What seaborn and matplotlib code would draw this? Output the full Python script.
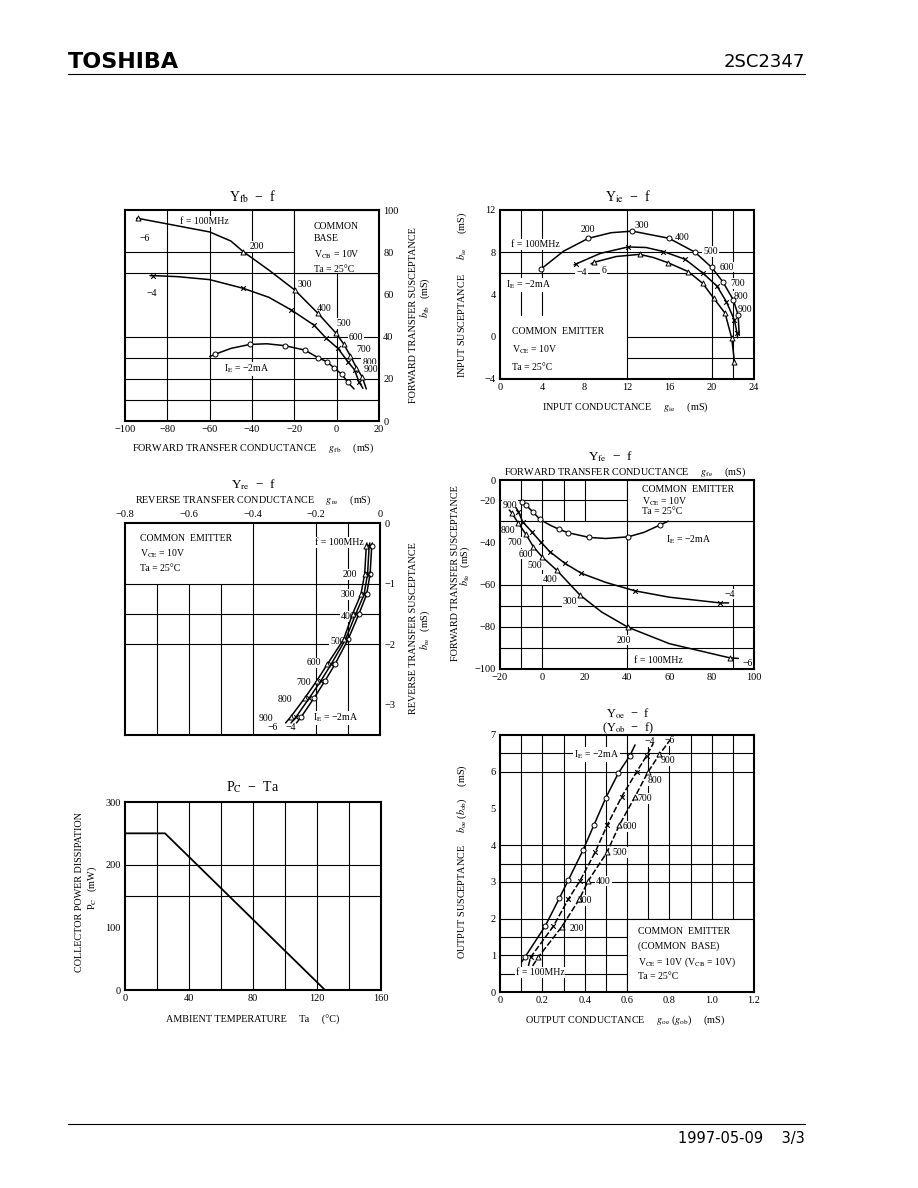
import matplotlib
matplotlib.use("Agg")
import matplotlib.pyplot as plt
from matplotlib.patches import Rectangle
import seaborn as sns

# -----------------------------
# data
# -----------------------------
# Y_fb - f (common base), IE = -2, -4, -6 mA
fb_n2_g = [-60.0, -57.5, -50.0, -41.0, -33.0, -24.5, -15.0, -8.8, -4.6, -1.4, 2.5, 5.3, 8.2]
fb_n2_b = [30.5, 31.6, 34.4, 36.3, 36.6, 35.7, 33.6, 30.0, 28.1, 25.3, 22.1, 18.3, 15.2]
fb_n2_mk_g = [-57.5, -41.0, -24.5, -15.0, -8.8, -4.6, -1.4, 2.5, 5.3]
fb_n2_mk_b = [31.6, 36.3, 35.7, 33.6, 30.0, 28.1, 25.3, 22.1, 18.3]
fb_n4_g = [-88.2, -86.6, -75.0, -60.0, -44.2, -32.0, -21.4, -10.8, -4.9, 0.6, 5.3, 8.5, 10.5, 12.4]
fb_n4_b = [68.9, 68.9, 68.4, 67.0, 62.9, 58.6, 52.6, 45.5, 39.2, 34.4, 28.1, 24.2, 18.6, 15.5]
fb_n4_mk_g = [-86.6, -44.2, -21.4, -10.8, -4.9, 0.6, 5.3, 8.5, 10.5]
fb_n4_mk_b = [68.9, 62.9, 52.6, 45.5, 39.2, 34.4, 28.1, 24.2, 18.6]
fb_n6_g = [-94.5, -93.7, -80.0, -60.0, -50.0, -44.2, -32.0, -19.8, -8.8, -0.2, 3.3, 6.4, 9.3, 12.0, 14.0]
fb_n6_b = [96.0, 96.0, 93.4, 89.6, 85.3, 80.3, 71.5, 62.1, 51.0, 41.5, 36.5, 31.0, 25.3, 21.0, 15.2]
fb_n6_mk_g = [-93.7, -44.2, -19.8, -8.8, -0.2, 3.3, 6.4, 9.3, 12.0]
fb_n6_mk_b = [96.0, 80.3, 62.1, 51.0, 41.5, 36.5, 31.0, 25.3, 21.0]

# Y_ie - f (common emitter)
ie_n2_g = [3.84, 6.0, 8.35, 10.5, 12.5, 15.97, 18.43, 20.0, 21.05, 22.05, 22.5, 22.6]
ie_n2_b = [6.38, 8.1, 9.32, 9.85, 10.0, 9.32, 8.0, 6.57, 5.21, 3.48, 2.06, 0.2]
ie_n2_mk_g = [3.84, 8.35, 12.5, 15.97, 18.43, 20.0, 21.05, 22.05, 22.5]
ie_n2_mk_b = [6.38, 9.32, 10.0, 9.32, 8.0, 6.57, 5.21, 3.48, 2.06]
ie_n4_g = [7.0, 7.18, 9.5, 12.1, 13.8, 15.43, 17.5, 19.2, 20.5, 21.4, 22.15, 22.4, 22.45]
ie_n4_b = [6.8, 6.89, 7.9, 8.5, 8.45, 8.07, 7.33, 6.0, 4.8, 3.3, 1.58, 0.33, -0.1]
ie_n4_mk_g = [7.18, 12.1, 15.43, 17.5, 19.2, 20.5, 21.4, 22.15, 22.4]
ie_n4_mk_b = [6.89, 8.5, 8.07, 7.33, 6.0, 4.8, 3.3, 1.58, 0.33]
ie_n6_g = [8.6, 8.88, 11.0, 13.2, 14.5, 15.9, 17.8, 19.15, 20.2, 21.27, 21.9, 22.15, 22.2]
ie_n6_b = [6.9, 7.05, 7.6, 7.8, 7.5, 7.0, 6.16, 5.06, 3.64, 2.22, -0.15, -2.35, -2.6]
ie_n6_mk_g = [8.88, 13.2, 15.9, 17.8, 19.15, 20.2, 21.27, 21.9, 22.15]
ie_n6_mk_b = [7.05, 7.8, 7.0, 6.16, 5.06, 3.64, 2.22, -0.15, -2.35]

# Y_re - f (common emitter), first point = curve start, rest = 100..900 MHz, end
re_b = [-0.33, -0.38, -0.84, -1.18, -1.50, -1.92, -2.33, -2.61, -2.89, -3.20, -3.30]
re_n2_g = [-0.024, -0.026, -0.031, -0.042, -0.066, -0.100, -0.141, -0.173, -0.207, -0.247, -0.262]
re_n4_g = [-0.032, -0.034, -0.039, -0.050, -0.076, -0.108, -0.153, -0.186, -0.222, -0.263, -0.279]
re_n6_g = [-0.041, -0.043, -0.048, -0.060, -0.086, -0.114, -0.165, -0.199, -0.236, -0.280, -0.296]

# Y_fe - f (common emitter)
fe_n2_g = [-10.5, -9.75, -7.7, -4.25, -1.1, 3.5, 8.0, 12.3, 22.2, 30.0, 40.6, 48.0, 55.6, 59.5]
fe_n2_b = [-20.2, -20.8, -22.4, -25.8, -29.2, -31.8, -33.9, -35.5, -37.7, -38.2, -37.4, -35.3, -31.8, -30.0]
fe_n2_mk_g = [-9.75, -7.7, -4.25, -1.1, 8.0, 12.3, 22.2, 40.6, 55.6]
fe_n2_mk_b = [-20.8, -22.4, -25.8, -29.2, -33.9, -35.5, -37.7, -37.4, -31.8]
fe_n4_g = [-12.5, -11.3, -9.3, -5.0, -0.8, 3.6, 10.7, 18.5, 30.0, 43.8, 60.0, 84.0, 88.0]
fe_n4_b = [-23.5, -25.5, -30.3, -35.0, -39.8, -44.5, -50.0, -54.7, -59.0, -63.0, -66.0, -68.7, -68.7]
fe_n4_mk_g = [-11.3, -9.3, -5.0, -0.8, 3.6, 10.7, 18.5, 43.8, 84.0]
fe_n4_mk_b = [-25.5, -30.3, -35.0, -39.8, -44.5, -50.0, -54.7, -63.0, -68.7]
fe_n6_g = [-15.6, -14.5, -11.3, -7.7, -4.25, 0.0, 6.8, 17.8, 28.0, 40.6, 60.0, 88.5, 92.6]
fe_n6_b = [-24.7, -26.0, -31.0, -36.3, -42.1, -47.0, -53.2, -65.0, -73.0, -80.3, -88.0, -94.7, -95.0]
fe_n6_mk_g = [-14.5, -11.3, -7.7, -4.25, 0.0, 6.8, 17.8, 40.6, 88.5]
fe_n6_mk_b = [-26.0, -31.0, -36.3, -42.1, -47.0, -53.2, -65.0, -80.3, -94.7]

# PC - Ta
pc_ta = [0, 25, 125]
pc_mw = [250, 250, 0]

# Y_oe - f, first point = curve start, then 100..900 MHz, then end
oe_n2_g = [0.102, 0.118, 0.213, 0.280, 0.323, 0.392, 0.444, 0.500, 0.559, 0.614, 0.638]
oe_n2_b = [0.82, 0.95, 1.79, 2.55, 3.05, 3.86, 4.55, 5.29, 5.96, 6.44, 6.73]
oe_n4_g = [0.134, 0.145, 0.252, 0.323, 0.378, 0.449, 0.507, 0.575, 0.646, 0.693, 0.724]
oe_n4_b = [0.71, 0.95, 1.79, 2.53, 3.03, 3.80, 4.55, 5.32, 6.00, 6.44, 6.77]
oe_n6_g = [0.154, 0.181, 0.291, 0.375, 0.417, 0.505, 0.564, 0.638, 0.698, 0.753, 0.803]
oe_n6_b = [0.71, 0.95, 1.77, 2.53, 3.03, 3.80, 4.55, 5.32, 5.98, 6.47, 6.86]

freq_labels = ["100", "200", "300", "400", "500", "600", "700", "800", "900"]

# -----------------------------
# style
# -----------------------------
sns.set_theme(style="white")
plt.rcParams['font.family'] = ['Liberation Serif', 'DejaVu Serif']
plt.rcParams['mathtext.fontset'] = 'stix'
plt.rcParams['axes.unicode_minus'] = True
plt.rcParams['text.color'] = 'black'

W, H = 918, 1188
fig = plt.figure(figsize=(W / 100, H / 100), dpi=100)


def box(x0, y0, x1, y1):
    return [x0 / W, 1 - y1 / H, (x1 - x0) / W, (y1 - y0) / H]


def ptext(x, y, s, **kw):
    kw.setdefault('fontsize', 7.3)
    kw.setdefault('ha', 'center')
    kw.setdefault('va', 'center')
    fig.text(x / W, 1 - y / H, s, **kw)


WB = dict(facecolor='white', edgecolor='none', pad=0.6)


def lab(ax, x, y, s, **kw):
    kw.setdefault('fontsize', 7)
    kw.setdefault('ha', 'center')
    kw.setdefault('va', 'center')
    ax.text(x, y, s, bbox=WB, zorder=2.5, **kw)


def curve(ax, x, y, ls='-'):
    sns.lineplot(x=x, y=y, sort=False, estimator=None, color='black',
                 linewidth=1.1, linestyle=ls, ax=ax, zorder=3)


def marks(ax, x, y, kind):
    if kind == 'x':
        sns.scatterplot(x=x, y=y, marker='x', s=11, color='black',
                        linewidth=0.8, ax=ax, zorder=4)
    else:
        sns.scatterplot(x=x, y=y, marker=kind, s=13, color='white',
                        edgecolor='black', linewidth=0.7, ax=ax, zorder=4)


def frame(ax):
    for s in ax.spines.values():
        s.set_linewidth(1.5)
        s.set_color('black')
    ax.tick_params(length=0, labelsize=7.5, pad=3, colors='black')
    ax.set_xlabel('')
    ax.set_ylabel('')


def vgrid(ax, xs, lo=0, hi=1):
    for v in xs:
        ax.axvline(v, ymin=lo, ymax=hi, color='black', lw=0.8, zorder=1)


def hgrid(ax, ys, lo=0, hi=1):
    for v in ys:
        ax.axhline(v, xmin=lo, xmax=hi, color='black', lw=0.8, zorder=1)


# -----------------------------
# header / footer
# -----------------------------
ptext(68, 62, "TOSHIBA", fontsize=16, fontweight='bold', ha='left',
      family=['DejaVu Sans'])
ptext(805, 62, "2SC2347", fontsize=13, ha='right', family=['DejaVu Sans'])
ptext(805, 1138, "1997-05-09    3/3", fontsize=10.5, ha='right', family=['DejaVu Sans'])
fig.add_artist(plt.Line2D([68 / W, 805 / W], [1 - 74 / H, 1 - 74 / H], color='black', lw=0.8))
fig.add_artist(plt.Line2D([68 / W, 805 / W], [1 - 1124 / H, 1 - 1124 / H], color='black', lw=0.8))

# -----------------------------
# 1. Y_fb - f
# -----------------------------
ax1 = fig.add_axes(box(125, 210, 379, 421))
vgrid(ax1, [-80, -60, -40, -20, 0])
hgrid(ax1, [10, 20, 30, 40, 70, 80])
ax1.add_patch(Rectangle((-20, 70), 40, 30, facecolor='white', edgecolor='black', lw=0.8, zorder=1.5))
curve(ax1, fb_n2_g, fb_n2_b)
curve(ax1, fb_n4_g, fb_n4_b)
curve(ax1, fb_n6_g, fb_n6_b)
marks(ax1, fb_n2_mk_g, fb_n2_mk_b, 'o')
marks(ax1, fb_n4_mk_g, fb_n4_mk_b, 'x')
marks(ax1, fb_n6_mk_g, fb_n6_mk_b, '^')
ax1.set_xlim(-100, 20)
ax1.set_ylim(0, 100)
ax1.set_xticks([-100, -80, -60, -40, -20, 0, 20])
ax1.set_xticklabels(["−100", "−80", "−60", "−40", "−20", "0", "20"])
ax1.set_yticks([0, 20, 40, 60, 80, 100])
ax1.yaxis.tick_right()
frame(ax1)
lab(ax1, -62.7, 94.5, "f = 100MHz")
lab(ax1, -90.6, 86.6, "−6")
lab(ax1, -87.4, 60.5, "−4")
for (x, y), t in zip([(-37.6, 82.6), (-15.1, 64.9), (-5.7, 53.4), (3.3, 46.3), (9.1, 39.5),
                      (12.7, 34.1), (15.6, 27.8), (16.4, 24.6)], freq_labels[1:]):
    lab(ax1, x, y, t)
lab(ax1, -42.6, 24.6, "I$_{\\rm E}$ = −2mA")
ax1.text(-10.8, 94.5, "COMMON\nBASE\nV$_{\\rm CB}$ = 10V\nTa = 25°C", fontsize=7,
         ha='left', va='top', linespacing=1.55, zorder=2.5)
ptext(253, 197, "Y$_{\\rm fb}$  −  f", fontsize=10)
ptext(253, 448, "FORWARD TRANSFER CONDUCTANCE     $g_{\\rm fb}$     (mS)")
ptext(413, 315, "FORWARD TRANSFER SUSCEPTANCE", rotation=90)
ptext(425, 298, "$b_{\\rm fb}$   (mS)", rotation=90)

# -----------------------------
# 2. Y_ie - f
# -----------------------------
ax2 = fig.add_axes(box(500, 210, 754, 379))
vgrid(ax2, [12, 20, 22])
vgrid(ax2, [2, 4], lo=0.38)
hgrid(ax2, [8, 6])
hgrid(ax2, [0, -2], lo=0.5)
curve(ax2, ie_n2_g, ie_n2_b)
curve(ax2, ie_n4_g, ie_n4_b)
curve(ax2, ie_n6_g, ie_n6_b)
marks(ax2, ie_n2_mk_g, ie_n2_mk_b, 'o')
marks(ax2, ie_n4_mk_g, ie_n4_mk_b, 'x')
marks(ax2, ie_n6_mk_g, ie_n6_mk_b, '^')
ax2.set_xlim(0, 24)
ax2.set_ylim(-4, 12)
ax2.set_xticks([0, 4, 8, 12, 16, 20, 24])
ax2.set_yticks([12, 8, 4, 0, -4])
ax2.set_yticklabels(["12", "8", "4", "0", "−4"])
frame(ax2)
for (x, y), t in zip([(8.3, 10.2), (13.4, 10.5), (17.2, 9.4), (19.9, 8.05), (21.4, 6.6),
                      (22.5, 5.06), (22.8, 3.8), (23.1, 2.6)], freq_labels[1:]):
    lab(ax2, x, y, t)
lab(ax2, 3.3, 8.7, "f = 100MHz")
lab(ax2, 2.75, 4.9, "I$_{\\rm E}$ = −2mA")
lab(ax2, 7.7, 6.05, "−4")
lab(ax2, 9.8, 6.25, "6")
ax2.text(1.1, 0.48, "COMMON  EMITTER", fontsize=7, ha='left', va='center', zorder=2.5)
ax2.text(1.1, -1.26, "V$_{\\rm CE}$ = 10V", fontsize=7, ha='left', va='center', zorder=2.5)
ax2.text(1.1, -2.9, "Ta = 25°C", fontsize=7, ha='left', va='center', zorder=2.5)
ptext(628, 197, "Y$_{\\rm ie}$  −  f", fontsize=10)
ptext(625, 407, "INPUT CONDUCTANCE     $g_{\\rm ie}$     (mS)")
ptext(462, 295, "INPUT SUSCEPTANCE      $b_{\\rm ie}$      (mS)", rotation=90)

# -----------------------------
# 3. Y_re - f
# -----------------------------
ax3 = fig.add_axes(box(125, 523, 380, 735))
vgrid(ax3, [-0.7, -0.6, -0.5], hi=2.5 / 3.5)
vgrid(ax3, [-0.4, -0.2, -0.1])
hgrid(ax3, [-1, -1.5, -2])
curve(ax3, re_n2_g, re_b)
curve(ax3, re_n4_g, re_b)
curve(ax3, re_n6_g, re_b)
marks(ax3, re_n2_g[1:-1], re_b[1:-1], 'o')
marks(ax3, re_n4_g[1:-1], re_b[1:-1], 'x')
marks(ax3, re_n6_g[1:-1], re_b[1:-1], '^')
ax3.set_xlim(-0.8, 0)
ax3.set_ylim(-3.5, 0)
ax3.set_xticks([-0.8, -0.6, -0.4, -0.2, 0])
ax3.set_xticklabels(["−0.8", "−0.6", "−0.4", "−0.2", "0"])
ax3.set_yticks([0, -1, -2, -3])
ax3.xaxis.tick_top()
ax3.yaxis.tick_right()
frame(ax3)
lab(ax3, -0.127, -0.32, "f = 100MHz")
for (x, y), t in zip([(-0.096, -0.85), (-0.101, -1.18), (-0.101, -1.54), (-0.133, -1.95),
                      (-0.209, -2.31), (-0.240, -2.64), (-0.299, -2.92), (-0.357, -3.22)],
                     freq_labels[1:]):
    lab(ax3, x, y, t)
lab(ax3, -0.336, -3.38, "−6")
lab(ax3, -0.279, -3.38, "−4")
lab(ax3, -0.138, -3.22, "I$_{\\rm E}$ = −2mA")
ax3.text(-0.753, -0.25, "COMMON  EMITTER", fontsize=7, ha='left', va='center', zorder=2.5)
ax3.text(-0.753, -0.5, "V$_{\\rm CE}$ = 10V", fontsize=7, ha='left', va='center', zorder=2.5)
ax3.text(-0.753, -0.75, "Ta = 25°C", fontsize=7, ha='left', va='center', zorder=2.5)
ptext(253, 485, "Y$_{\\rm re}$  −  f", fontsize=9.5)
ptext(253, 500, "REVERSE TRANSFER CONDUCTANCE     $g_{\\rm re}$     (mS)")
ptext(413, 628, "REVERSE TRANSFER SUSCEPTANCE", rotation=90)
ptext(425, 630, "$b_{\\rm re}$   (mS)", rotation=90)

# -----------------------------
# 4. Y_fe - f
# -----------------------------
ax4 = fig.add_axes(box(500, 480, 754, 669))
vgrid(ax4, [-10, 0, 40])
vgrid(ax4, [10, 20], lo=70 / 89.5)
vgrid(ax4, [90], hi=40 / 89.5)
hgrid(ax4, [-20], hi=0.5)
hgrid(ax4, [-30, -60, -70, -80, -90])
ax4.add_patch(Rectangle((40, -30), 60, 19.5, facecolor='white', edgecolor='black', lw=0.8, zorder=1.5))
curve(ax4, fe_n2_g, fe_n2_b)
curve(ax4, fe_n4_g, fe_n4_b)
curve(ax4, fe_n6_g, fe_n6_b)
marks(ax4, fe_n2_mk_g, fe_n2_mk_b, 'o')
marks(ax4, fe_n4_mk_g, fe_n4_mk_b, 'x')
marks(ax4, fe_n6_mk_g, fe_n6_mk_b, '^')
ax4.set_xlim(-20, 100)
ax4.set_ylim(-100, -10.5)
ax4.set_xticks([-20, 0, 20, 40, 60, 80, 100])
ax4.set_xticklabels(["−20", "0", "20", "40", "60", "80", "100"])
ax4.set_yticks([-10.5, -20, -40, -60, -80, -100])
ax4.set_yticklabels(["0", "−20", "−40", "−60", "−80", "−100"])
frame(ax4)
for (x, y), t in zip([(38.3, -86.3), (13.1, -68.2), (3.6, -57.6), (-3.5, -50.8),
                      (-7.7, -45.6), (-12.9, -40.0), (-16.1, -34.2), (-15.3, -22.4)],
                     freq_labels[1:]):
    lab(ax4, x, y, t)
lab(ax4, 69, -38.6, "I$_{\\rm E}$ = −2mA")
lab(ax4, 88.6, -64.5, "−4")
lab(ax4, 54.6, -95.8, "f = 100MHz")
lab(ax4, 97.1, -97.4, "−6")
ax4.text(47, -14.9, "COMMON  EMITTER", fontsize=7, ha='left', va='center', zorder=2.5)
ax4.text(47, -20.6, "V$_{\\rm CE}$ = 10V", fontsize=7, ha='left', va='center', zorder=2.5)
ax4.text(47, -25.2, "Ta = 25°C", fontsize=7, ha='left', va='center', zorder=2.5)
ptext(610, 457, "Y$_{\\rm fe}$  −  f", fontsize=9.5)
ptext(625, 472, "FORWARD TRANSFER CONDUCTANCE     $g_{\\rm fe}$     (mS)")
ptext(455, 573, "FORWARD TRANSFER SUSCEPTANCE", rotation=90)
ptext(465, 566, "$b_{\\rm fe}$   (mS)", rotation=90)

# -----------------------------
# 5. PC - Ta
# -----------------------------
ax5 = fig.add_axes(box(125, 802, 381, 990))
vgrid(ax5, [20, 40, 60, 80, 100, 120, 140])
hgrid(ax5, [150, 200])
sns.lineplot(x=pc_ta, y=pc_mw, sort=False, estimator=None, color='black',
             linewidth=1.3, ax=ax5, zorder=3)
ax5.set_xlim(0, 160)
ax5.set_ylim(0, 300)
ax5.set_xticks([0, 40, 80, 120, 160])
ax5.set_yticks([0, 100, 200, 300])
frame(ax5)
ptext(253, 787, "P$_{\\rm C}$  −  Ta", fontsize=10)
ptext(253, 1020, "AMBIENT TEMPERATURE     Ta     (°C)")
ptext(80, 892, "COLLECTOR POWER DISSIPATION", rotation=90)
ptext(92, 888, "P$_{\\rm C}$   (mW)", rotation=90)

# -----------------------------
# 6. Y_oe - f
# -----------------------------
ax6 = fig.add_axes(box(500, 735, 754, 992))
vgrid(ax6, [0.1, 0.2, 0.3, 0.4, 0.5, 0.6, 0.7, 0.8, 0.9, 1.0, 1.1])
hgrid(ax6, [0.5, 1, 1.5, 2, 3, 3.5, 4, 6, 6.5])
ax6.add_patch(Rectangle((0.6, 0), 0.6, 2, facecolor='white', edgecolor='black', lw=0.8, zorder=1.5))
curve(ax6, oe_n2_g, oe_n2_b)
curve(ax6, oe_n4_g, oe_n4_b, ls=(0, (4, 1.5)))
curve(ax6, oe_n6_g, oe_n6_b, ls=(0, (4, 1.5)))
marks(ax6, oe_n2_g[1:-1], oe_n2_b[1:-1], 'o')
marks(ax6, oe_n4_g[1:-1], oe_n4_b[1:-1], 'x')
marks(ax6, oe_n6_g[1:-1], oe_n6_b[1:-1], '^')
ax6.set_xlim(0, 1.2)
ax6.set_ylim(0, 7)
ax6.set_xticks([0, 0.2, 0.4, 0.6, 0.8, 1.0, 1.2])
ax6.set_xticklabels(["0", "0.2", "0.4", "0.6", "0.8", "1.0", "1.2"])
ax6.set_yticks([0, 1, 2, 3, 4, 5, 6, 7])
frame(ax6)
lab(ax6, 0.457, 6.47, "I$_{\\rm E}$ = −2mA")
lab(ax6, 0.709, 6.82, "−4")
lab(ax6, 0.80, 6.84, "−6")
for (x, y), t in zip([(0.362, 1.73), (0.40, 2.5), (0.488, 3.02), (0.567, 3.8), (0.614, 4.5),
                      (0.685, 5.27), (0.732, 5.77), (0.795, 6.3)], freq_labels[1:]):
    lab(ax6, x, y, t)
lab(ax6, 0.189, 0.53, "f = 100MHz")
for y, t in zip([1.64, 1.25, 0.82, 0.41],
                ["COMMON  EMITTER", "(COMMON  BASE)",
                 "V$_{\\rm CE}$ = 10V (V$_{\\rm CB}$ = 10V)", "Ta = 25°C"]):
    ax6.text(0.653, y, t, fontsize=7, ha='left', va='center', zorder=2.5)
ptext(628, 714, "Y$_{\\rm oe}$  −  f", fontsize=9)
ptext(628, 728, "(Y$_{\\rm ob}$  −  f)", fontsize=9)
ptext(625, 1020, "OUTPUT CONDUCTANCE     $g_{\\rm oe}$ ($g_{\\rm ob}$)     (mS)")
ptext(462, 862, "OUTPUT SUSCEPTANCE     $b_{\\rm oe}$ ($b_{\\rm ob}$)     (mS)", rotation=90)

fig.savefig("out.png", dpi=100)
